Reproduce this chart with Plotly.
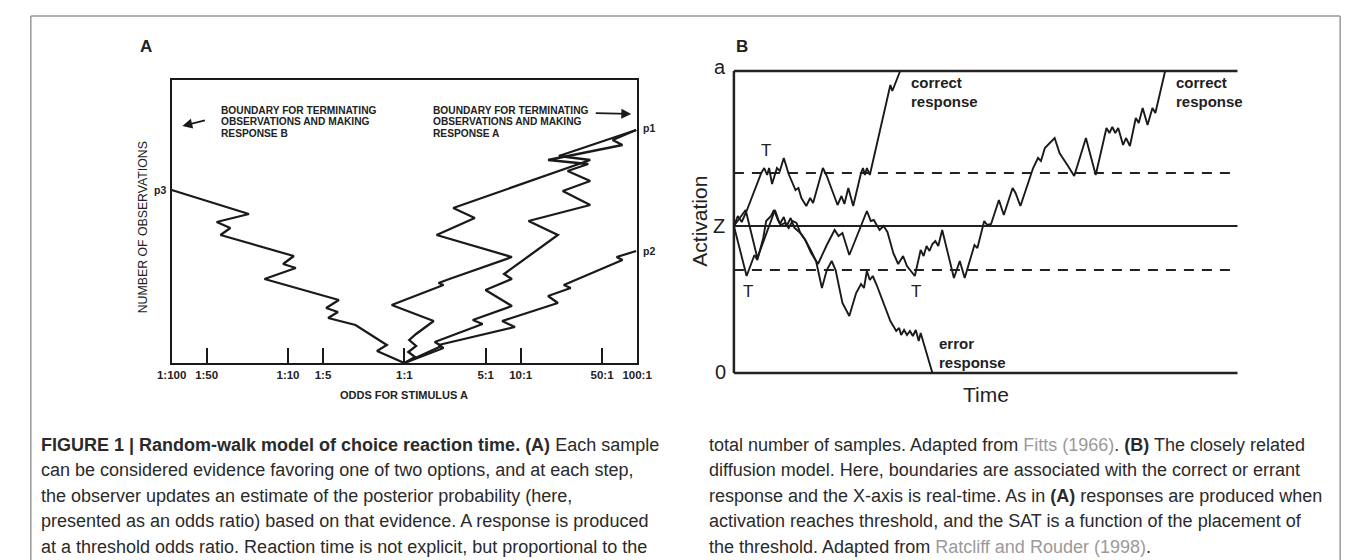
import numpy as np
import plotly.graph_objects as go

W, H = 1355, 560

# ---------------- Panel A data (log10 odds for stimulus A, number of observations) -------------
p3_log_odds = [0, -0.168, -0.235, -0.151, -0.420, -0.655, -0.571, -0.672, -0.563, -1.202, -0.933,
               -1.042, -0.950, -1.580, -1.496, -1.613, -1.336, -2.0]
p3_obs = [0, 8, 12, 18, 38, 45, 51, 55, 63, 84, 95, 99, 107, 128, 135, 141, 149, 173]

r1_log_odds = [0, 0.092, 0.034, 0.101, 0.042, 0.101, 0.252, -0.109, 0.336, 0.294, 0.387, 0.924,
               0.277, 0.605, 0.420, 1.597, 1.328, 1.992]
r1_obs = [0, 6, 11, 17, 23, 29, 42, 58, 78, 80, 84, 106, 128, 145, 155, 203, 207, 233]

r2_log_odds = [0, 0.319, 0.261, 0.672, 0.588, 0.924, 0.697, 0.924, 0.857, 1.319, 1.067, 1.597,
               1.361, 1.597, 1.403, 1.580, 1.235, 1.874, 1.790, 1.992]
r2_obs = [0, 17, 21, 39, 43, 57, 73, 84, 89, 128, 142, 158, 172, 182, 192, 199, 203, 218, 223, 233]

p2_log_odds = [0, 0.336, 0.294, 0.950, 0.840, 1.319, 1.235, 1.429, 1.370, 1.874, 1.824, 1.992]
p2_obs = [0, 15, 18, 36, 42, 60, 67, 75, 78, 103, 106, 112]

odds_tick_vals = [0.01, 0.02, 0.1, 0.2, 1, 5, 10, 50, 100]
odds_tick_text = ["1:100", "1:50", "1:10", "1:5", "1:1", "5:1", "10:1", "50:1", "100:1"]
obs_max = 283

# ---------------- Panel B data (time, activation) ----------------
act_a = 302
act_z = 147
thr_upper = 200
thr_lower = 103
time_max = 515

b1_time = [0, 4, 8, 13, 28, 31, 34, 36, 39, 44, 47, 51, 56, 60, 63, 66, 69, 74, 78, 81, 86, 91, 95, 99,
           106, 110, 113, 117, 122, 130, 132, 134, 136, 139, 160, 162, 170]
b1_act = [147, 157, 151, 162, 200, 205, 198, 205, 189, 205, 202, 215, 199, 189, 183, 185, 175, 167, 175,
          170, 187, 205, 197, 187, 168, 177, 169, 185, 167, 200, 205, 198, 205, 198, 288, 282, 302]

b2_time = [0, 12, 24, 42, 47, 51, 54, 58, 62, 68, 73, 79, 86, 91, 95, 103, 107, 111, 118, 123, 128, 136,
           140, 143, 149, 153, 157, 163, 168, 173, 177, 180, 185, 191, 194, 197, 200, 203, 206, 209, 213,
           225, 231, 236, 246, 249, 256, 259, 263, 271, 276, 285, 288, 293, 306, 311, 314, 318, 328, 333,
           336, 341, 348, 360, 370, 381, 384, 387, 390, 393, 398, 401, 405, 411, 414, 418, 423, 428, 431,
           441]
b2_act = [147, 163, 115, 163, 149, 156, 147, 155, 145, 140, 133, 120, 109, 120, 128, 143, 137, 140, 118,
          130, 142, 162, 152, 153, 143, 147, 141, 120, 109, 117, 107, 103, 97, 123, 117, 127, 122, 129,
          132, 127, 143, 95, 112, 95, 128, 125, 152, 148, 149, 173, 158, 185, 180, 167, 205, 215, 212,
          225, 235, 220, 215, 208, 197, 235, 198, 245, 240, 246, 240, 245, 228, 235, 227, 255, 250, 265,
          248, 265, 260, 302]

b3_time = [0, 13, 21, 24, 30, 33, 38, 41, 45, 48, 52, 56, 60, 64, 68, 73, 79, 84, 90, 95, 100, 104, 111,
           118, 125, 130, 133, 136, 139, 142, 146, 153, 160, 163, 166, 169, 171, 174, 177, 180, 183, 186,
           189, 191, 203]
b3_act = [147, 97, 118, 113, 135, 152, 157, 163, 153, 148, 150, 145, 152, 150, 140, 133, 122, 112, 85,
          103, 112, 103, 70, 57, 80, 89, 85, 102, 93, 97, 88, 70, 52, 47, 42, 45, 38, 43, 38, 42, 37, 43,
          32, 40, 0]

INK = "#1a1a1a"
fig = go.Figure()

def path(x, y, xa, ya, width=2.0, dash="solid", color=INK):
    fig.add_trace(go.Scatter(x=x, y=y, mode="lines", xaxis=xa, yaxis=ya, showlegend=False,
                             hoverinfo="skip",
                             line=dict(color=color, width=width, dash=dash)))

for lo, ob in [(p3_log_odds, p3_obs), (r1_log_odds, r1_obs), (r2_log_odds, r2_obs), (p2_log_odds, p2_obs)]:
    path(list(10 ** np.array(lo)), ob, "x", "y", width=2.3)

# Panel B boundaries
path([0, time_max], [act_a, act_a], "x2", "y2", width=2.5, color="#222")
path([0, time_max], [0, 0], "x2", "y2", width=2.5, color="#222")
path([0, 0], [0, act_a], "x2", "y2", width=2.5, color="#222")
path([0, time_max], [act_z, act_z], "x2", "y2", width=2.2, color="#222")
path([0, time_max], [thr_upper, thr_upper], "x2", "y2", width=2.2, dash="10px,8px", color="#222")
path([0, time_max], [thr_lower, thr_lower], "x2", "y2", width=2.2, dash="10px,8px", color="#222")
for t, a in [(b1_time, b1_act), (b2_time, b2_act), (b3_time, b3_act)]:
    path(t, a, "x2", "y2", width=1.9)

def dom(p0, p1, total, flip=False):
    if flip:
        return [1 - p1 / total, 1 - p0 / total]
    return [p0 / total, p1 / total]

NARROW = "Liberation Sans Narrow, Liberation Sans, Arial"

fig.update_layout(
    width=W, height=H, autosize=False,
    margin=dict(l=0, r=0, t=0, b=0),
    paper_bgcolor="white", plot_bgcolor="white",
    xaxis=dict(type="log", range=[-2, 2], domain=dom(152, 628, W),
               tickvals=odds_tick_vals, ticktext=["<b>%s</b>" % t for t in odds_tick_text],
               ticks="inside", ticklen=15, tickwidth=1.6, tickcolor=INK,
               showline=True, mirror=True, linecolor=INK, linewidth=2.2,
               showgrid=False, zeroline=False,
               tickfont=dict(family=NARROW, size=11.5, color="#222")),
    yaxis=dict(range=[0, obs_max], domain=dom(72, 355, H, flip=True),
               showline=True, mirror=True, linecolor=INK, linewidth=2.2,
               showticklabels=False, ticks="", showgrid=False, zeroline=False),
    xaxis2=dict(range=[-4, time_max + 4], domain=dom(723, 1246, W), anchor="y2",
                visible=False),
    yaxis2=dict(range=[-4, act_a + 4], domain=dom(59, 369, H, flip=True), anchor="x2",
                visible=False),
)

def P(px, py):
    return px / W, 1 - py / H

def txt(px, py, s, size, family="Liberation Sans, Arial", color="#222", xanchor="center", angle=0):
    x, y = P(px, py)
    fig.add_annotation(x=x, y=y, xref="paper", yref="paper", text=s, showarrow=False,
                       xanchor=xanchor, yanchor="middle", textangle=angle,
                       font=dict(size=size, family=family, color=color))

# Panel labels
txt(126, 39, "<b>A</b>", 17)
txt(735, 39, "<b>B</b>", 17)

# Panel A texts
for i, line in enumerate(["BOUNDARY FOR TERMINATING", "OBSERVATIONS AND MAKING", "RESPONSE B"]):
    txt(200, 102 + 11.7 * i, "<b>%s</b>" % line, 10.2, family=NARROW, xanchor="left")
for i, line in enumerate(["BOUNDARY FOR TERMINATING", "OBSERVATIONS AND MAKING", "RESPONSE A"]):
    txt(417, 102 + 11.7 * i, "<b>%s</b>" % line, 10.2, family=NARROW, xanchor="left")
txt(632, 120, "<b>p1</b>", 10.5, family=NARROW, xanchor="left")
txt(632, 243, "<b>p2</b>", 10.5, family=NARROW, xanchor="left")
txt(148, 182, "<b>p3</b>", 10.5, family=NARROW, xanchor="right")
txt(123, 219, "NUMBER OF OBSERVATIONS", 12.3, angle=-90)
txt(390, 387, "<b>ODDS FOR STIMULUS A</b>", 11, family=NARROW)

# arrows (tail -> head, pixel offsets)
for (tx, ty, hx, hy) in [(187, 112, 163, 118), (585, 105, 622, 106)]:
    x1, y1 = P(hx, hy)
    fig.add_annotation(x=x1, y=y1, ax=tx - hx, ay=ty - hy, xref="paper", yref="paper",
                       axref="pixel", ayref="pixel", text="", showarrow=True, arrowhead=2,
                       arrowsize=1.1, arrowwidth=1.8, arrowcolor=INK)

# Panel B texts
txt(713, 59, "a", 20)
txt(712, 218, "Z", 20)
txt(713, 364, "0", 20)
txt(691, 213, "Activation", 21, angle=-90)
txt(985, 386, "Time", 21)
txt(760, 142, "T", 17)
txt(741, 283, "T", 17)
txt(913, 283, "T", 17)
for x0 in (906, 1177):
    txt(x0, 75, "<b>correct</b>", 15, xanchor="left")
    txt(x0, 94, "<b>response</b>", 15, xanchor="left")
txt(935, 335, "<b>error</b>", 15, xanchor="left")
txt(935, 354, "<b>response</b>", 15, xanchor="left")

# frame around figure and caption (continues below the visible area)
for (x0, y0, x1, y1) in [(8, 8, 1347, 8), (8, 8, 8, 600), (1347, 8, 1347, 600)]:
    fig.add_shape(type="line", xref="paper", yref="paper", x0=x0 / W, x1=x1 / W,
                  y0=1 - y0 / H, y1=1 - y1 / H, line=dict(color="#999", width=1.5))

# Caption
GRAY = "<span style='color:#9a9a9a'>%s</span>"
left_lines = [
    "<b>FIGURE 1 | Random-walk model of choice reaction time. (A)</b> Each sample",
    "can be considered evidence favoring one of two options, and at each step,",
    "the observer updates an estimate of the posterior probability (here,",
    "presented as an odds ratio) based on that evidence. A response is produced",
    "at a threshold odds ratio. Reaction time is not explicit, but proportional to the",
]
right_lines = [
    "total number of samples. Adapted from " + GRAY % "Fitts (1966)" + ". <b>(B)</b> The closely related",
    "diffusion model. Here, boundaries are associated with the correct or errant",
    "response and the X-axis is real-time. As in <b>(A)</b> responses are produced when",
    "activation reaches threshold, and the SAT is a function of the placement of",
    "the threshold. Adapted from " + GRAY % "Ratcliff and Rouder (1998)" + ".",
]
CAP = "Liberation Sans, Arial"
for i, line in enumerate(left_lines):
    txt(16, 437 + 25.4 * i, line, 18, family=CAP, xanchor="left", color="#2a2a2a")
for i, line in enumerate(right_lines):
    txt(699, 437 + 25.4 * i, line, 18, family=CAP, xanchor="left", color="#2a2a2a")

fig.write_html("out.html")
